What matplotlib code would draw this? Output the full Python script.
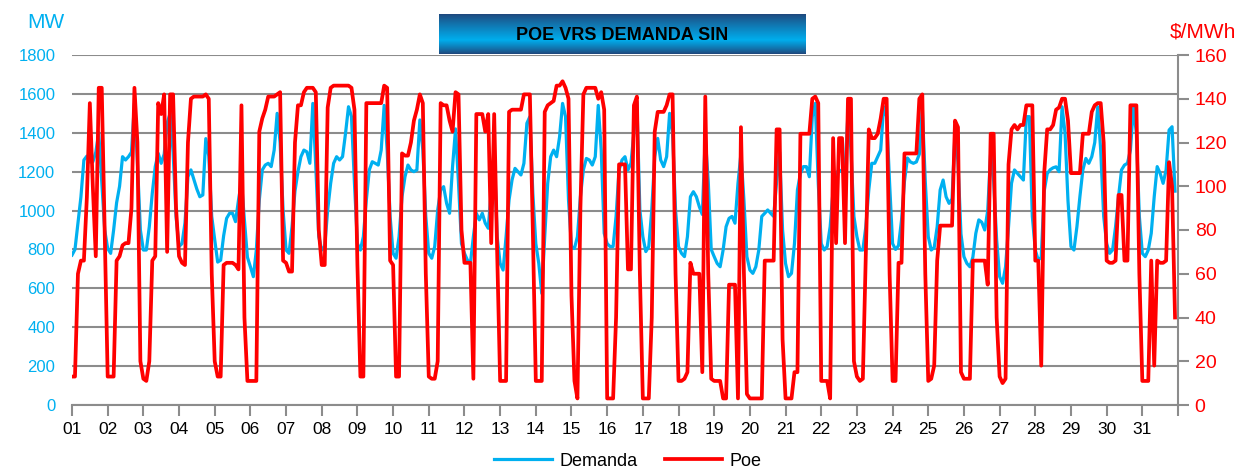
import numpy as np
import matplotlib.pyplot as plt

plt.rcParams['font.family'] = ['Liberation Sans', 'DejaVu Sans']

# ---------- DATA (one value every 2 hours, one row per day) ----------

dias = [f"{d:02d}" for d in range(1, 32)]

# Demanda SIN, MW
demanda = [
    771, 800, 937, 1070, 1260, 1280, 1250, 1250, 1300, 1400, 1150, 900,      # 01
    805, 780, 900, 1040, 1125, 1277, 1260, 1277, 1300, 1550, 1250, 900,      # 02
    797, 797, 917, 1089, 1226, 1294, 1243, 1290, 1450, 1500, 1300, 970,      # 03
    815, 830, 937, 1174, 1209, 1160, 1110, 1071, 1080, 1370, 1280, 970,      # 04
    850, 735, 745, 870, 960, 986, 986, 943, 1054, 1150, 950, 760,            # 05
    711, 660, 797, 1054, 1209, 1234, 1243, 1226, 1311, 1500, 1350, 1000,     # 06
    797, 780, 917, 1100, 1200, 1277, 1311, 1302, 1243, 1551, 1226, 866,      # 07
    797, 815, 1003, 1140, 1243, 1277, 1260, 1277, 1397, 1534, 1483, 1140,    # 08
    830, 797, 866, 1054, 1209, 1251, 1243, 1234, 1311, 1541, 1311, 970,      # 09
    780, 755, 866, 1071, 1174, 1234, 1209, 1200, 1209, 1466, 1311, 970,      # 10
    780, 755, 815, 1003, 1106, 1123, 1037, 986, 1226, 1420, 1140, 830,       # 11
    780, 745, 728, 866, 986, 952, 986, 935, 909, 1100, 1311, 866,            # 12
    728, 694, 866, 1054, 1157, 1217, 1200, 1183, 1243, 1449, 1483, 1089,     # 13
    830, 728, 574, 866, 1140, 1277, 1311, 1277, 1380, 1551, 1483, 1054,      # 14
    815, 805, 866, 1071, 1209, 1268, 1260, 1234, 1277, 1541, 1311, 883,      # 15
    830, 815, 815, 970, 1209, 1260, 1277, 1209, 1243, 1400, 1560, 1003,      # 16
    866, 789, 815, 1003, 1277, 1371, 1260, 1226, 1277, 1500, 1397, 1003,     # 17
    815, 780, 763, 866, 1071, 1097, 1071, 1020, 980, 1380, 1150, 800,        # 18
    763, 728, 711, 797, 917, 960, 970, 935, 1140, 1294, 1054, 763,           # 19
    694, 677, 711, 797, 970, 986, 1003, 986, 970, 1150, 1300, 900,           # 20
    728, 660, 677, 830, 1106, 1191, 1226, 1226, 1174, 1483, 1551, 1140,      # 21
    830, 797, 815, 917, 1106, 1191, 1209, 1200, 1209, 1500, 1311, 970,       # 22
    866, 797, 797, 917, 1106, 1243, 1243, 1277, 1311, 1534, 1483, 1140,      # 23
    830, 800, 820, 950, 1150, 1270, 1250, 1243, 1250, 1290, 1530, 1150,      # 24
    866, 797, 810, 917, 1106, 1157, 1071, 1037, 1060, 1400, 1250, 880,       # 25
    763, 728, 711, 760, 883, 952, 940, 900, 1000, 1300, 1150, 850,           # 26
    660, 626, 711, 917, 1140, 1209, 1191, 1174, 1157, 1483, 1483, 970,       # 27
    797, 745, 760, 1100, 1190, 1210, 1220, 1225, 1200, 1534, 1400, 1050,     # 28
    815, 797, 917, 1071, 1209, 1268, 1243, 1277, 1350, 1534, 1311, 970,      # 29
    830, 780, 797, 917, 1071, 1209, 1234, 1243, 1311, 1534, 1397, 970,       # 30
    780, 763, 797, 883, 1071, 1226, 1191, 1140, 1209, 1414, 1431, 1100,      # 31
]

# Poe, $/MWh
poe = [
    13, 13, 60, 66, 66, 95, 138, 100, 68, 145, 145, 80,       # 01
    13, 13, 13, 66, 68, 73, 74, 74, 90, 145, 120, 20,         # 02
    12, 11, 20, 66, 68, 138, 133, 142, 70, 142, 142, 90,      # 03
    68, 65, 64, 120, 140, 141, 141, 141, 141, 142, 140, 60,   # 04
    20, 13, 13, 64, 65, 65, 65, 64, 62, 137, 40, 11,          # 05
    11, 11, 11, 125, 131, 135, 141, 141, 141, 142, 143, 66,   # 06
    65, 61, 61, 120, 137, 137, 143, 145, 145, 145, 143, 80,   # 07
    64, 64, 136, 145, 146, 146, 146, 146, 146, 146, 145, 135, # 08
    64, 13, 13, 138, 138, 138, 138, 138, 138, 146, 145, 66,   # 09
    64, 13, 13, 115, 114, 114, 120, 130, 135, 142, 138, 60,   # 10
    13, 12, 12, 20, 138, 137, 137, 130, 125, 143, 142, 80,    # 11
    65, 65, 65, 12, 133, 133, 133, 125, 133, 74, 133, 70,     # 12
    11, 11, 11, 134, 135, 135, 135, 135, 142, 142, 142, 80,   # 13
    11, 11, 11, 134, 137, 138, 139, 146, 146, 148, 145, 140,  # 14
    50, 11, 3, 90, 142, 145, 145, 145, 145, 140, 143, 135,    # 15
    3, 3, 3, 40, 110, 110, 110, 62, 62, 137, 141, 60,         # 16
    3, 3, 3, 40, 125, 134, 134, 134, 137, 142, 142, 60,       # 17
    11, 11, 12, 15, 65, 60, 60, 60, 15, 141, 60, 12,          # 18
    11, 11, 11, 3, 3, 55, 55, 55, 3, 127, 60, 5,              # 19
    3, 3, 3, 3, 3, 66, 66, 66, 66, 126, 126, 30,              # 20
    3, 3, 3, 15, 15, 124, 124, 124, 124, 140, 141, 138,       # 21
    11, 11, 11, 3, 122, 74, 122, 122, 74, 140, 140, 20,       # 22
    13, 11, 12, 70, 126, 122, 122, 124, 131, 140, 140, 60,    # 23
    11, 11, 65, 65, 115, 115, 115, 115, 115, 140, 142, 60,    # 24
    11, 12, 18, 66, 82, 82, 82, 82, 82, 130, 127, 15,         # 25
    12, 12, 12, 66, 66, 66, 66, 66, 55, 124, 124, 40,         # 26
    13, 10, 12, 110, 126, 128, 126, 128, 128, 137, 137, 137,  # 27
    66, 66, 18, 106, 126, 126, 128, 135, 136, 140, 140, 130,  # 28
    106, 106, 106, 106, 124, 124, 124, 134, 137, 138, 138, 120,  # 29
    66, 65, 65, 66, 96, 96, 66, 66, 137, 137, 137, 60,        # 30
    11, 11, 11, 66, 18, 66, 65, 65, 66, 111, 100, 40,         # 31
]

BLUE = '#00B0F0'
RED = '#FF0000'
GRID = '#8C8C8C'

# ---------- FIGURE ----------

t = np.arange(len(demanda)) / 12.0   # days since start of month

fig = plt.figure(figsize=(12.46, 4.70), dpi=100)
ax = fig.add_axes([72 / 1246, 65 / 470, 1106 / 1246, 350 / 470])
ax2 = ax.twinx()

ax.plot(t, demanda, color=BLUE, lw=2.3, label='Demanda', solid_joinstyle='round')
ax2.plot(t, poe, color=RED, lw=2.7, label='Poe', solid_joinstyle='round')

ax.set_xlim(0, 31)
ax.set_ylim(0, 1800)
ax2.set_ylim(0, 160)
ax.set_yticks(range(0, 1801, 200))
ax2.set_yticks(range(0, 161, 20))
ax.set_xticks(range(0, 32))
ax.set_xticklabels(dias + [''])

ax.grid(axis='y', color=GRID, lw=1.5)
ax.set_axisbelow(True)
for s in ['top', 'left', 'right']:
    ax.spines[s].set_visible(False)
for s in ['top', 'left', 'bottom']:
    ax2.spines[s].set_visible(False)
ax.spines['bottom'].set_color(GRID)
ax.spines['bottom'].set_linewidth(1.5)
ax2.spines['right'].set_color(GRID)
ax2.spines['right'].set_linewidth(1.5)

ax.tick_params(axis='y', length=0, labelcolor=BLUE, labelsize=12, pad=12)
ax.tick_params(axis='x', length=8, width=1.5, color=GRID, labelsize=12.5, pad=4)
ax2.tick_params(axis='y', length=8, width=1.5, color=GRID, labelcolor=RED,
                labelsize=14, pad=4)

# axis unit labels
fig.text(46 / 1246, 1 - 22 / 470, 'MW', color=BLUE, fontsize=15,
         ha='center', va='center')
fig.text(1203 / 1246, 1 - 32 / 470, '\\$/MWh', color=RED, fontsize=15,
         ha='center', va='center')

# ---------- TITLE BOX ----------
tax = fig.add_axes([439 / 1246, 1 - 54 / 470, 367 / 1246, 40 / 470])
top = np.array([0.12, 0.29, 0.50])
mid = np.array([0.0, 0.68, 0.93])
g = np.linspace(0, 1, 40)
w = np.where(g < 0.65, g / 0.65, (1 - g) / 0.35)
w = np.clip(w, 0, 1) ** 0.9
grad = top[None, :] * (1 - w[:, None]) + mid[None, :] * w[:, None]
tax.imshow(grad[:, None, :], aspect='auto', extent=[0, 1, 0, 1])
tax.set_axis_off()
tax.text(0.5, 0.45, 'POE VRS DEMANDA SIN', ha='center', va='center',
         fontsize=13, fontweight='bold', color='black')

# ---------- LEGEND ----------
h1, lab1 = ax.get_legend_handles_labels()
h2, lab2 = ax2.get_legend_handles_labels()
fig.legend(h1 + h2, lab1 + lab2, loc='center', bbox_to_anchor=(628 / 1246, 9 / 470),
           ncol=2, frameon=False, fontsize=13, handlelength=3.2,
           columnspacing=1.5, handletextpad=0.4)

fig.savefig('out.png', dpi=100)
